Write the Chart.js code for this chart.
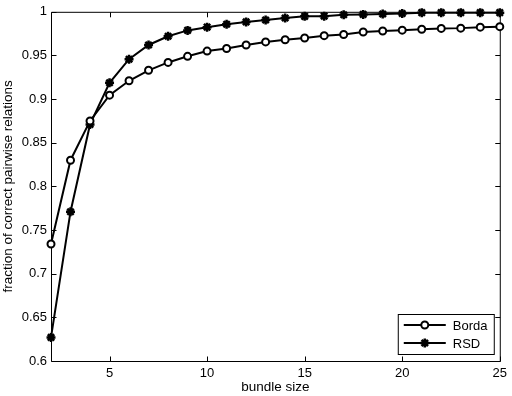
<!DOCTYPE html>
<html>
<head>
<meta charset="utf-8">
<script src="https://cdn.jsdelivr.net/npm/chart.js@4/dist/chart.umd.min.js"></script>
<style>
html,body{margin:0;padding:0;background:#fff;}
#wrap{width:512px;height:396px;position:relative;}
</style>
</head>
<body>
<div id="wrap"><canvas id="c" width="512" height="396"></canvas></div>
<script>
const bundleSizes = [2,3,4,5,6,7,8,9,10,11,12,13,14,15,16,17,18,19,20,21,22,23,24,25];
const bordaValues = [0.734,0.830,0.875,0.9045,0.921,0.933,0.942,0.949,0.955,0.958,0.962,0.9655,0.968,0.970,0.9727,0.974,0.9768,0.978,0.979,0.980,0.981,0.9813,0.9824,0.983];
const rsdValues = [0.627,0.771,0.871,0.9187,0.9457,0.962,0.972,0.9787,0.9824,0.9858,0.9884,0.9906,0.9929,0.9948,0.995,0.9966,0.997,0.9975,0.998,0.999,0.999,0.999,0.999,0.999];
const xTicks = [5,10,15,20,25];
const yTicks = [0.6,0.65,0.7,0.75,0.8,0.85,0.9,0.95,1];
const seriesNames = ['Borda','RSD'];

const FONT = 'Liberation Sans, Arial, Helvetica, sans-serif';

const framePlugin = {
  id: 'frame',
  beforeDatasetsDraw(chart) {
    const {ctx, chartArea: {left, right, top, bottom}, scales: {x, y}} = chart;
    ctx.save();
    ctx.strokeStyle = '#000';
    ctx.lineWidth = 1;
    const L = left + 0.5, R = right + 0.5, T = top + 0.5, B = bottom + 0.5;
    ctx.beginPath();
    ctx.moveTo(L, T); ctx.lineTo(R, T); ctx.lineTo(R, B); ctx.lineTo(L, B); ctx.closePath();
    const tl = 5;
    x.ticks.forEach(t => {
      const px = Math.round(x.getPixelForValue(t.value)) + 0.5;
      ctx.moveTo(px, B); ctx.lineTo(px, B - tl);
      ctx.moveTo(px, T); ctx.lineTo(px, T + tl);
    });
    y.ticks.forEach(t => {
      const py = Math.round(y.getPixelForValue(t.value)) + 0.5;
      ctx.moveTo(L, py); ctx.lineTo(L + tl, py);
      ctx.moveTo(R, py); ctx.lineTo(R - tl, py);
    });
    ctx.stroke();
    ctx.restore();
  }
};

const legendPlugin = {
  id: 'boxLegend',
  afterDraw(chart) {
    const {ctx, chartArea: {right, bottom}} = chart;
    const w = 96, h = 40;
    const bx = right - 6 - w, by = bottom - 7 - h;
    ctx.save();
    ctx.fillStyle = '#fff';
    ctx.fillRect(bx, by, w, h);
    ctx.strokeStyle = '#000';
    ctx.lineWidth = 1;
    ctx.strokeRect(bx + 0.5, by + 0.5, w, h);
    chart.data.datasets.forEach((ds, i) => {
      const yy = by + 11 + i * 18;
      ctx.strokeStyle = '#000';
      ctx.lineWidth = 2;
      ctx.beginPath();
      ctx.moveTo(bx + 6, yy); ctx.lineTo(bx + 48, yy);
      ctx.stroke();
      ctx.fillStyle = ds.pointBackgroundColor;
      ctx.strokeStyle = '#000';
      ctx.lineWidth = ds.pointBorderWidth;
      Chart.helpers.drawPoint(ctx, {pointStyle: ds.pointStyle, radius: ds.pointRadius, borderWidth: ds.pointBorderWidth, rotation: 0}, bx + 27, yy);
      ctx.fillStyle = '#000';
      ctx.font = '13px ' + FONT;
      ctx.textBaseline = 'middle';
      ctx.textAlign = 'left';
      ctx.fillText(ds.label, bx + 55, yy + 1);
    });
    ctx.restore();
  }
};

new Chart(document.getElementById('c'), {
  type: 'line',
  data: {
    datasets: [
      {
        label: seriesNames[0],
        data: bundleSizes.map((b, i) => ({x: b, y: bordaValues[i]})),
        borderColor: '#000',
        borderWidth: 2,
        pointStyle: 'circle',
        pointRadius: 3.5,
        pointBorderWidth: 2,
        pointBackgroundColor: '#fff',
        pointBorderColor: '#000',
        tension: 0,
        clip: false
      },
      {
        label: seriesNames[1],
        data: bundleSizes.map((b, i) => ({x: b, y: rsdValues[i]})),
        borderColor: '#000',
        borderWidth: 2,
        pointStyle: 'star',
        pointRadius: 4.5,
        pointBorderWidth: 2.5,
        pointBackgroundColor: '#000',
        pointBorderColor: '#000',
        tension: 0,
        clip: false
      }
    ]
  },
  options: {
    responsive: false,
    animation: false,
    devicePixelRatio: 1,
    layout: {padding: {top: 5, right: 9, left: 0, bottom: 0}},
    plugins: {legend: {display: false}, tooltip: {enabled: false}},
    scales: {
      x: {
        type: 'linear',
        min: 2, max: 25,
        afterBuildTicks: s => { s.ticks = xTicks.map(v => ({value: v})); },
        afterFit: s => { s.height = 35; },
        grid: {display: false, drawTicks: false},
        border: {display: false},
        ticks: {color: '#000', font: {family: FONT, size: 13}, padding: 5, maxRotation: 0, autoSkip: false, callback: v => String(v)},
        title: {display: true, text: 'bundle size', color: '#000', font: {family: FONT, size: 13.5}, padding: {top: 0, bottom: 1}}
      },
      y: {
        type: 'linear',
        min: 0.6, max: 1,
        afterBuildTicks: s => { s.ticks = yTicks.map(v => ({value: v})); },
        afterFit: s => { s.width = 51; },
        grid: {display: false, drawTicks: false},
        border: {display: false},
        ticks: {color: '#000', font: {family: FONT, size: 13}, padding: 4, autoSkip: false, callback: v => String(v)},
        title: {display: true, text: 'fraction of correct pairwise relations', color: '#000', font: {family: FONT, size: 13.5}, padding: {top: 0, bottom: 0}}
      }
    }
  },
  plugins: [framePlugin, legendPlugin]
});
</script>
</body>
</html>
